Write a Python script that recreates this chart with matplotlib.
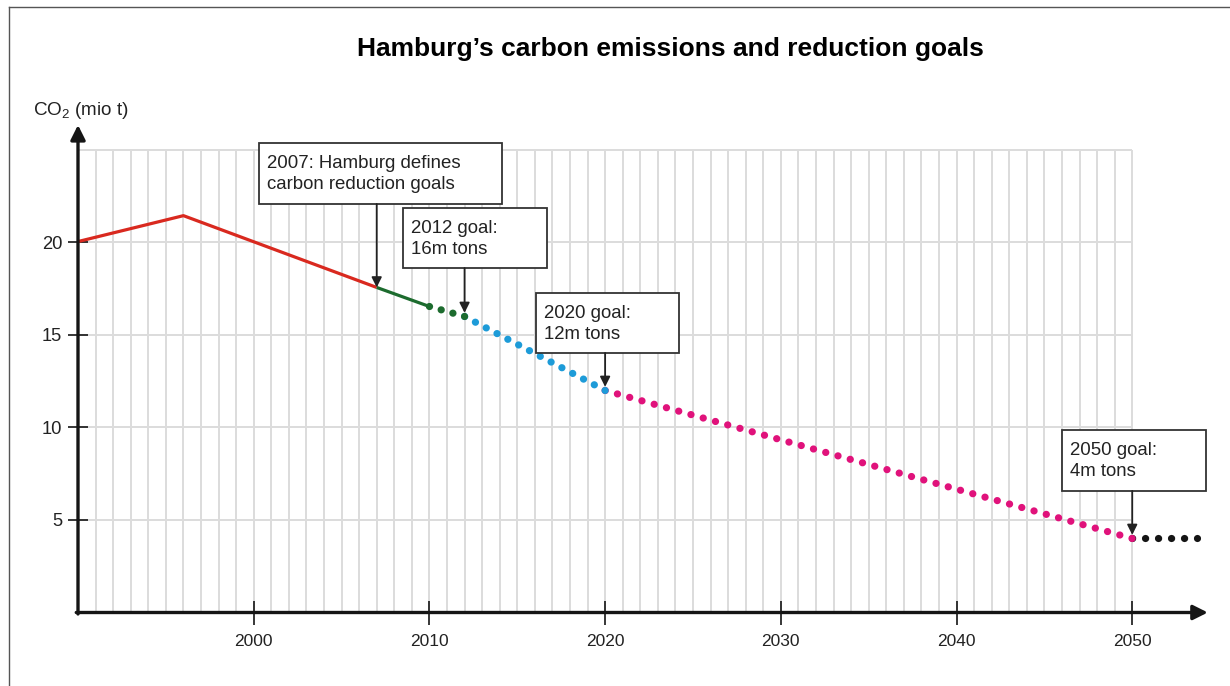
import matplotlib
matplotlib.use("Agg")
import matplotlib.pyplot as plt
import numpy as np
from matplotlib.lines import Line2D
from matplotlib.patches import Rectangle

# ---- data -------------------------------------------------------------
hist_years = [1990, 1996, 2007]            # measured emissions before the plan
hist_values = [20.05, 21.45, 17.57]
policy_years = [2007, 2010]                # measured emissions after 2007
policy_values = [17.57, 16.54]
goal_years = [2012, 2020, 2050]            # reduction targets
goal_values = [16, 12, 4]
tail_years = [2050, 2053.7]                # level held after 2050
tail_values = [4, 4]

x_ticks = [2000, 2010, 2020, 2030, 2040, 2050]
y_ticks = [5, 10, 15, 20]

title = "Hamburg\u2019s carbon emissions and reduction goals"
y_label = "CO$_2$ (mio t)"
notes = [
    "2007: Hamburg defines\ncarbon reduction goals",
    "2012 goal:\n16m tons",
    "2020 goal:\n12m tons",
    "2050 goal:\n4m tons",
]
note_years = [2007, 2012, 2020, 2050]
note_values = [17.57, 16, 12, 4]

# ---- style ------------------------------------------------------------
plt.rcParams["font.family"] = ["Liberation Sans", "DejaVu Sans"]
plt.rcParams["mathtext.default"] = "regular"

RED = "#d9291f"
GREEN = "#1c6b2e"
BLUE = "#1d9bd8"
MAGENTA = "#e0127b"
BLACK = "#151515"
GRID = "#dcdcdc"
TEXT = "#222222"

W, H, DPI = 1230, 686, 100
fig = plt.figure(figsize=(W / DPI, H / DPI), dpi=DPI)
fig.patch.set_facecolor("white")

x0, x1 = 1990, 2054.3
y0, y1 = 0, 26.35
ax = fig.add_axes([78 / W, (H - 612.5) / H, 1129.8 / W, 487.5 / H])
ax.set_xlim(x0, x1)
ax.set_ylim(y0, y1)
for s in ax.spines.values():
    s.set_visible(False)
ax.set_facecolor("none")

# yearly grid inside the 1990-2050 / 0-25 frame
ax.vlines(np.arange(1991, 2051), 0, 25, color=GRID, lw=1.4, zorder=0)
ax.hlines([5, 10, 15, 20, 25], 1990, 2050, color=GRID, lw=1.4, zorder=0)

# axes with arrow heads
arrow_kw = dict(arrowstyle="-|>", color=BLACK, lw=2.4, mutation_scale=22,
                shrinkA=0, shrinkB=0)
ax.annotate("", xy=(x1, 0), xytext=(1989.9, 0), arrowprops=arrow_kw,
            annotation_clip=False, zorder=5)
ax.annotate("", xy=(1990, y1), xytext=(1990, -0.08), arrowprops=arrow_kw,
            annotation_clip=False, zorder=5)

ax.set_xticks(x_ticks)
ax.set_yticks(y_ticks)
ax.tick_params(axis="x", direction="inout", length=17, width=1.2, color=BLACK,
               labelsize=12.5, labelcolor=TEXT, pad=7)
ax.tick_params(axis="y", direction="inout", length=15, width=1.2, color=BLACK,
               labelsize=13.2, labelcolor=TEXT, pad=4)

# measured emissions
ax.plot(hist_years, hist_values, color=RED, lw=2.3, solid_capstyle="butt", zorder=3)
ax.plot(policy_years, policy_values, color=GREEN, lw=2.3, solid_capstyle="butt", zorder=3)


def dotted(xs, ys, color, z, dot_px=7.2, step_px=12.7):
    """Round dots spaced evenly so that both ends carry a dot."""
    p = ax.transData.transform(np.column_stack([xs, ys]))
    length = float(np.hypot(*(p[-1] - p[0])))
    n = max(1, int(round(length / step_px)))
    lw_pt = dot_px * 72 / DPI
    on = 0.02
    period = (length / n) * 72 / DPI / lw_pt * 0.9995
    ax.plot(xs, ys, color=color, lw=lw_pt, linestyle=(0, (on, period - on)),
            dash_capstyle="round", zorder=z)


# earlier segments sit on top so each goal dot keeps the colour of the stretch it ends
dotted([policy_years[-1], goal_years[0]], [policy_values[-1], goal_values[0]], GREEN, 4.4)
dotted(goal_years[0:2], goal_values[0:2], BLUE, 4.3)
dotted(goal_years[1:3], goal_values[1:3], MAGENTA, 4.2)
dotted(tail_years, tail_values, BLACK, 4.1)

# annotation boxes (x, y of lower-left corner, width, height in data units)
boxes = [
    (2000.30, 22.08, 13.83, 3.30),
    (2008.50, 18.62, 8.19, 3.24),
    (2016.07, 14.03, 8.14, 3.24),
    (2046.00, 6.57, 8.20, 3.29),
]
for text, (bx, by, bw, bh), yr, val in zip(notes, boxes, note_years, note_values):
    ax.add_patch(Rectangle((bx, by), bw, bh, facecolor="white", edgecolor="#333333",
                           lw=1.3, zorder=6, clip_on=False))
    ax.text(bx + 0.45, by + bh / 2 - 0.05, text, ha="left", va="center", fontsize=13.4,
            color=TEXT, linespacing=1.3, zorder=7, clip_on=False)
    shrink = 0 if yr == note_years[0] else 2.6
    ax.annotate("", xy=(yr, val), xytext=(yr, by),
                arrowprops=dict(arrowstyle="-|>", color=TEXT, lw=1.3,
                                mutation_scale=15, shrinkA=0, shrinkB=shrink),
                zorder=8, annotation_clip=False)

# titles
fig.text(670 / W, 1 - 49 / H, title, ha="center", va="center", fontsize=19,
         fontweight="bold", color="black")
fig.text(33 / W, 1 - 115 / H, y_label, ha="left", va="baseline", fontsize=13.6,
         color=TEXT)

# thin frame on the top and left
fig.add_artist(Line2D([9 / W, 9 / W], [0, 1 - 6.5 / H], transform=fig.transFigure,
                      color="#555555", lw=1))
fig.add_artist(Line2D([9 / W, 1], [1 - 6.5 / H, 1 - 6.5 / H], transform=fig.transFigure,
                      color="#555555", lw=1))

fig.savefig("out.png", dpi=DPI, facecolor="white")
